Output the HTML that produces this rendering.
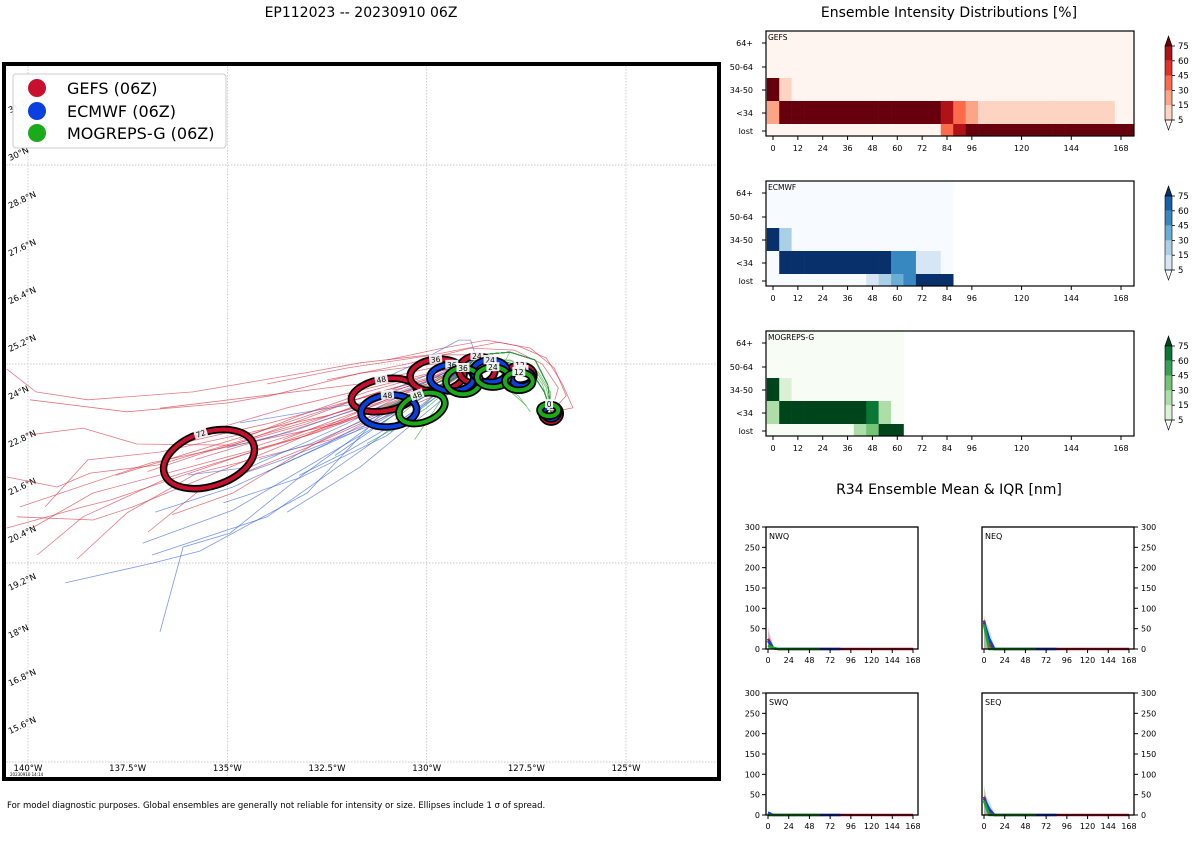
<!DOCTYPE html>
<html><head><meta charset="utf-8">
<style>
html,body{margin:0;padding:0;background:#fff;}
body{width:1200px;height:840px;overflow:hidden;font-family:"Liberation Sans","DejaVu Sans",sans-serif;}
svg text{font-family:"DejaVu Sans","Liberation Sans",sans-serif;}
</style></head>
<body>
<svg id="root" width="1200" height="840" viewBox="0 0 1200 840" xmlns="http://www.w3.org/2000/svg">
<defs><clipPath id="mapclip"><rect x="6" y="66" width="711" height="711"/></clipPath></defs>
<text x="361" y="17" font-size="14" text-anchor="middle">EP112023 -- 20230910 06Z</text>
<text x="949" y="17" font-size="14" text-anchor="middle">Ensemble Intensity Distributions [%]</text>
<text x="949" y="494" font-size="14" text-anchor="middle">R34 Ensemble Mean &amp; IQR [nm]</text>
<text x="7" y="808" font-size="8.5">For model diagnostic purposes. Global ensembles are generally not reliable for intensity or size. Ellipses include 1 σ of spread.</text>
<g id="map"></g>
<g id="heat"></g>
<g id="r34"></g>
</svg>
<script>
// ---------------- MAP DATA ----------------
const latTicks = [31.2,30,28.8,27.6,26.4,25.2,24,22.8,21.6,20.4,19.2,18,16.8,15.6];
const latTickLabels = ["31.2°N","30°N","28.8°N","27.6°N","26.4°N","25.2°N","24°N","22.8°N","21.6°N","20.4°N","19.2°N","18°N","16.8°N","15.6°N"];
const lonTicks = [-140,-137.5,-135,-132.5,-130,-127.5,-125];
const lonTickLabels = ["140°W","137.5°W","135°W","132.5°W","130°W","127.5°W","125°W"];
const gridLats = [30,25,20,15];
const gridLons = [-140,-135,-130,-125];
const hookPath = [[-126.88,23.79],[-126.96,24.47],[-127.28,25.1],[-127.91,25.3],[-128.66,25.23]];
const hookPath2 = [[-126.88,23.79],[-127.05,24.3],[-127.4,24.85],[-128.0,25.05],[-128.7,25.0]];
const gefsTails = [
 [[-129.9,25.23],[-131.67,25.03],[-132.93,24.8],[-135.86,24.3],[-138.5,24.1],[-139.8,24.3],[-140.53,24.87]],
 [[-129.8,25.0],[-131.67,24.77],[-133.93,24.2],[-135.0,24.02],[-137.52,23.8],[-139.95,24.1]],
 [[-129.8,24.7],[-131.5,24.2],[-134.86,22.96],[-137.27,22.99],[-138.62,23.39],[-139.95,23.22]],
 [[-129.7,24.6],[-131.8,23.9],[-136.76,22.46],[-138.44,22.26],[-139.27,21.91],[-140.53,22.16]],
 [[-129.6,24.5],[-132.0,23.6],[-137.94,21.58],[-138.62,21.41],[-140.53,20.88]],
 [[-129.7,24.4],[-132.2,23.5],[-136.94,22.51],[-140.2,21.41]],
 [[-129.9,24.5],[-132.5,23.7],[-136.69,22.79],[-138.5,22.59],[-139.57,21.41]],
 [[-130.0,24.3],[-132.7,23.3],[-136.44,22.16],[-138.62,21.16],[-139.77,20.2]],
 [[-129.8,24.2],[-132.4,23.1],[-135.76,22.26],[-137.52,21.26],[-138.77,20.1]],
 [[-130.0,24.4],[-133.0,23.2],[-138.37,21.76],[-139.9,20.88]],
 [[-129.9,24.6],[-133.5,23.0],[-137.37,21.41],[-138.37,21.08],[-140.28,21.16]],
 [[-130.1,24.2],[-133.0,22.9],[-135.69,21.83],[-136.99,20.78]],
 [[-130.2,24.3],[-132.8,23.0],[-134.86,21.76],[-136.39,21.21]],
 [[-129.9,24.9],[-131.67,24.5],[-136.69,23.89]],
 [[-129.5,24.8],[-133.0,23.5],[-135.5,22.8],[-137.0,22.3]],
 [[-129.6,24.7],[-131.2,24.3],[-134.2,23.3],[-137.8,22.2]],
 [[-129.4,24.9],[-131.0,24.5],[-133.5,23.9],[-135.2,23.4]],
 [[-129.5,24.6],[-131.3,24.0],[-133.8,23.2],[-135.8,22.6]],
 [[-129.7,24.8],[-131.5,24.3],[-133.2,23.7],[-134.7,23.1]],
 [[-129.6,24.4],[-131.0,23.9],[-132.8,23.4],[-134.4,22.9]],
 [[-129.8,24.6],[-131.8,24.1],[-134.0,23.5],[-136.2,23.0]],
 [[-129.5,24.5],[-130.9,24.1],[-132.3,23.6],[-133.6,23.1]]
];
const gefsFull = [
 [[-126.88,23.79],[-126.33,23.9],[-126.6,24.5],[-127.0,25.15],[-127.7,25.45],[-128.2,25.55],[-128.7,25.45],[-130.0,25.2],[-132.0,24.9],[-134.0,24.5]],
 [[-126.88,23.79],[-126.5,24.2],[-126.8,24.9],[-127.4,25.4],[-128.5,25.6],[-129.6,25.4],[-131.0,25.1]],
 [[-126.88,23.79],[-126.7,24.4],[-127.1,25.0],[-127.8,25.35],[-128.9,25.4],[-130.5,25.0],[-132.5,24.6]]
];
const ecTails = [
 [[-129.6,24.6],[-131.0,23.9],[-133.0,21.76],[-135.69,20.3],[-136.86,20.0],[-139.07,19.5]],
 [[-129.6,24.5],[-131.2,23.6],[-133.18,22.16],[-134.93,20.75],[-136.11,20.4],[-136.69,18.27]],
 [[-129.7,24.4],[-131.5,23.3],[-134.86,21.33],[-137.12,20.5]],
 [[-129.7,24.3],[-131.4,23.0],[-134.0,21.16],[-136.89,20.2]],
 [[-129.8,24.5],[-131.8,23.3],[-134.86,21.91],[-136.81,21.28]],
 [[-129.9,24.6],[-132.0,23.5],[-134.43,22.41],[-135.99,22.21]],
 [[-129.6,24.3],[-131.0,23.2],[-133.18,22.14],[-135.1,21.51]],
 [[-129.5,24.2],[-131.67,22.41],[-133.5,21.28]],
 [[-129.8,24.8],[-131.67,24.02],[-134.68,23.52]],
 [[-129.4,24.6],[-130.5,24.1],[-132.5,23.0],[-134.0,22.3]],
 [[-128.9,25.6],[-129.2,25.6],[-130.3,25.0],[-132.0,24.2]],
 [[-129.7,24.4],[-131.0,23.6],[-132.3,22.7]],
 [[-129.5,24.5],[-131.3,23.5],[-133.6,22.6],[-135.3,22.0]],
 [[-129.6,24.6],[-131.1,23.8],[-132.9,23.0],[-134.2,22.6]],
 [[-129.4,24.4],[-130.8,23.5],[-132.0,22.8],[-133.2,22.2]],
 [[-129.7,24.7],[-131.4,24.0],[-133.4,23.3],[-135.0,22.9]]
];
const mogTails = [
 [[-129.5,24.5],[-130.5,24.0],[-131.3,23.34]],
 [[-129.4,24.6],[-130.2,24.1],[-130.8,23.6]],
 [[-129.3,24.4],[-129.67,24.1]],
 [[-129.5,24.3],[-130.3,23.1]],
 [[-129.6,24.4],[-130.6,23.5],[-131.5,23.0]],
 [[-129.2,24.7],[-130.0,24.3],[-131.0,23.9]],
 [[-129.3,24.5],[-130.0,23.9],[-130.9,23.3]],
 [[-129.4,24.7],[-130.4,24.2],[-131.6,23.7]]
];
const mogFull = [
 [[-126.88,23.79],[-126.96,24.47],[-127.28,25.1],[-127.91,25.3],[-128.3,24.6],[-127.7,24.2],[-127.4,23.8]],
 [[-126.88,23.79],[-127.0,24.4],[-127.3,24.9],[-128.2,25.0],[-128.0,24.4],[-127.5,23.95]],
 [[-126.88,23.79],[-127.1,24.5],[-127.5,25.0],[-128.3,25.15],[-129.0,24.9],[-129.8,24.5],[-130.5,24.1]],
 [[-126.88,23.79],[-126.9,24.3],[-127.2,24.8],[-127.9,25.1],[-128.6,25.1],[-129.4,24.8],[-130.2,24.4]]
];
// ellipse data per model: time, lon, lat, rx(deg), ry(deg), angle
const gefsEllT = [72,48,36,24,12,0];
const gefsEllLon = [-135.46,-131.07,-129.74,-128.74,-127.66,-126.88];
const gefsEllLat = [22.61,24.22,24.72,24.85,24.72,23.76];
const gefsEllRx = [1.18,0.83,0.68,0.45,0.35,0.23];
const gefsEllRy = [0.68,0.40,0.40,0.35,0.25,0.22];
const gefsEllAng = [-18,-10,-5,0,0,0];
const ecEllT = [48,36,24,12,0];
const ecEllLon = [-130.95,-129.37,-128.41,-127.61,-126.88];
const ecEllLat = [23.82,24.65,24.82,24.65,23.78];
const ecEllRx = [0.70,0.55,0.43,0.27,0.18];
const ecEllRy = [0.40,0.33,0.28,0.2,0.16];
const ecEllAng = [-5,0,0,0,0];
const mogEllT = [48,36,24,12,0];
const mogEllLon = [-130.12,-129.09,-128.34,-127.69,-126.93];
const mogEllLat = [23.89,24.57,24.67,24.57,23.84];
const mogEllRx = [0.60,0.43,0.40,0.35,0.23];
const mogEllRy = [0.35,0.33,0.25,0.23,0.15];
const mogEllAng = [-20,0,0,0,0];

// ---------------- HEATMAP DATA ----------------
const intRows = ["64+","50-64","34-50","<34","lost"];
const heatXTicks = [0,12,24,36,48,60,72,84,96,120,144,168];
const cbTicks = [75,60,45,30,15,5];
const gefsR64 = [0,0,0,0,0,0,0,0,0,0,0,0,0,0,0,0,0,0,0,0,0,0,0,0,0,0,0,0,0];
const gefsR50 = [0,0,0,0,0,0,0,0,0,0,0,0,0,0,0,0,0,0,0,0,0,0,0,0,0,0,0,0,0];
const gefsR34 = [90,10,0,0,0,0,0,0,0,0,0,0,0,0,0,0,0,0,0,0,0,0,0,0,0,0,0,0,0];
const gefsRlt = [20,100,100,100,100,100,100,100,100,100,100,100,100,100,65,40,25,10,10,10,10,10,10,10,10,10,10,10,0];
const gefsRlost = [0,0,0,0,0,0,0,0,0,0,0,0,0,0,40,65,100,100,100,100,100,100,100,100,100,100,100,100,100];
const ecR64 = [0,0,0,0,0,0,0,0,0,0,0,0,0,0,0];
const ecR50 = [0,0,0,0,0,0,0,0,0,0,0,0,0,0,0];
const ecR34 = [90,20,0,0,0,0,0,0,0,0,0,0,0,0,0];
const ecRlt = [0,90,90,90,90,90,90,90,90,90,50,50,10,10,0];
const ecRlost = [0,0,0,0,0,0,0,0,10,20,35,50,90,90,90];
const mogR64 = [0,0,0,0,0,0,0,0,0,0,0];
const mogR50 = [0,0,0,0,0,0,0,0,0,0,0];
const mogR34 = [90,10,0,0,0,0,0,0,0,0,0];
const mogRlt = [20,90,90,90,90,90,90,90,65,20,0];
const mogRlost = [0,0,0,0,0,0,0,20,35,90,90];

// ---------------- R34 DATA ----------------
const r34XTicks = [0,24,48,72,96,120,144,168];
const r34YTicks = [0,50,100,150,200,250,300];
const gefsNWQ = [25,2,0,0,0,0,0,0,0,0,0,0,0,0,0,0,0,0,0,0,0,0,0,0,0,0,0,0,0];
const gefsNWQhi = [55,8,0,0,0,0,0,0,0,0,0,0,0,0,0,0,0,0,0,0,0,0,0,0,0,0,0,0,0];
const ecNWQ = [20,2,0,0,0,0,0,0,0,0,0,0,0,0,0];
const ecNWQhi = [45,8,0,0,0,0,0,0,0,0,0,0,0,0,0];
const mogNWQ = [8,3,0,0,0,0,0,0,0,0,0];
const mogNWQhi = [12,5,0,0,0,0,0,0,0,0,0];
const gefsNEQ = [70,10,0,0,0,0,0,0,0,0,0,0,0,0,0,0,0,0,0,0,0,0,0,0,0,0,0,0,0];
const gefsNEQhi = [85,20,0,0,0,0,0,0,0,0,0,0,0,0,0,0,0,0,0,0,0,0,0,0,0,0,0,0,0];
const ecNEQ = [65,25,0,0,0,0,0,0,0,0,0,0,0,0,0];
const ecNEQhi = [75,50,5,0,0,0,0,0,0,0,0,0,0,0,0];
const mogNEQ = [60,0,0,0,0,0,0,0,0,0,0];
const mogNEQhi = [70,5,0,0,0,0,0,0,0,0,0];
const gefsSWQ = [0,0,0,0,0,0,0,0,0,0,0,0,0,0,0,0,0,0,0,0,0,0,0,0,0,0,0,0,0];
const gefsSWQhi = [0,0,0,0,0,0,0,0,0,0,0,0,0,0,0,0,0,0,0,0,0,0,0,0,0,0,0,0,0];
const ecSWQ = [6,0,0,0,0,0,0,0,0,0,0,0,0,0,0];
const ecSWQhi = [10,3,0,0,0,0,0,0,0,0,0,0,0,0,0];
const mogSWQ = [0,0,0,0,0,0,0,0,0,0,0];
const mogSWQhi = [0,0,0,0,0,0,0,0,0,0,0];
const gefsSEQ = [45,5,0,0,0,0,0,0,0,0,0,0,0,0,0,0,0,0,0,0,0,0,0,0,0,0,0,0,0];
const gefsSEQhi = [65,15,0,0,0,0,0,0,0,0,0,0,0,0,0,0,0,0,0,0,0,0,0,0,0,0,0,0,0];
const ecSEQ = [40,15,0,0,0,0,0,0,0,0,0,0,0,0,0];
const ecSEQhi = [50,35,5,0,0,0,0,0,0,0,0,0,0,0,0];
const mogSEQ = [35,0,0,0,0,0,0,0,0,0,0];
const mogSEQhi = [75,5,0,0,0,0,0,0,0,0,0];

// ---------------- helpers ----------------
const NS = "http://www.w3.org/2000/svg";
function mk(tag, attrs, parent){ const e=document.createElementNS(NS,tag); for(const k in attrs) e.setAttribute(k,attrs[k]); if(parent) parent.appendChild(e); return e; }
const COL = {gefs:"#c8102e", ec:"#0a3fe0", mog:"#1aaa1a"};
const TRK = {gefs:"#d7303f", ec:"#3461e0", mog:"#28a428"};

// ---------------- MAP ----------------
const mapG = document.getElementById('map');
function X(lon){ return 28 + (lon+140)*39.87; }
function Y(lat){ return 165 + (30-lat)*39.8; }
const inner = mk('g',{'clip-path':'url(#mapclip)'},mapG);
gridLats.forEach(la=>{ const l=mk('line',{x1:6,x2:717,y1:Y(la),y2:Y(la),stroke:'#bbb','stroke-width':0.7,'stroke-dasharray':'1.5,1.5'},inner);
   });
gridLons.forEach(lo=>{ const l=mk('line',{x1:X(lo),x2:X(lo),y1:66,y2:777,stroke:'#bbb','stroke-width':0.7,'stroke-dasharray':'1.5,1.5'},inner);
   });
latTicks.forEach((la,i)=>{ const t=mk('text',{x:10,y:Y(la)-4,'font-size':8.5,transform:`rotate(-25 10 ${Y(la)-4})`},inner); t.textContent=latTickLabels[i];
   });
lonTicks.forEach((lo,i)=>{ const t=mk('text',{x:X(lo),y:771,'font-size':8.5,'text-anchor':'middle'},inner); t.textContent=lonTickLabels[i];
   });
const stamp = mk('text',{x:10,y:776,'font-size':4},inner); stamp.textContent='20230910 14:14';
 

function drawTrack(pts, model, name){
  const p = mk('polyline',{points:pts.map(q=>X(q[0]).toFixed(1)+','+Y(q[1]).toFixed(1)).join(' '),fill:'none',stroke:TRK[model],'stroke-width':0.8,'stroke-opacity':0.65},inner);
  
  
}
gefsTails.forEach((t,i)=>drawTrack((i%2?hookPath2:hookPath).concat(t),'gefs','gefs-member-track'));
gefsFull.forEach(t=>drawTrack(t,'gefs','gefs-member-track'));
ecTails.forEach((t,i)=>drawTrack((i%2?hookPath:hookPath2).concat(t),'ec','ecmwf-member-track'));
mogTails.forEach((t,i)=>drawTrack((i%2?hookPath2:hookPath).concat(t),'mog','mogreps-member-track'));
mogFull.forEach(t=>drawTrack(t,'mog','mogreps-member-track'));

function drawEll(T,LON,LAT,RX,RY,ANG,model,name){
  for(let i=0;i<T.length;i++){
    const cx=X(LON[i]), cy=Y(LAT[i]), rx=RX[i]*39.8, ry=RY[i]*39.8;
    const g = mk('g',{transform:`rotate(${ANG[i]} ${cx} ${cy})`},inner);
    
    
    mk('ellipse',{cx:cx,cy:cy,rx:rx,ry:ry,fill:'none',stroke:'#000','stroke-width':7.5},g);
    mk('ellipse',{cx:cx,cy:cy,rx:rx,ry:ry,fill:'none',stroke:COL[model],'stroke-width':4},g);
    const ly = cy - ry;
    const lab = String(T[i]);
    const w = lab.length*5+3;
    mk('rect',{x:cx-w/2,y:ly-5,width:w,height:9,fill:'#fff','fill-opacity':0.9},g);
    const t = mk('text',{x:cx,y:ly+3,'font-size':7.5,'text-anchor':'middle'},g); t.textContent=lab;
  }
}
drawEll(gefsEllT,gefsEllLon,gefsEllLat,gefsEllRx,gefsEllRy,gefsEllAng,'gefs','gefs-spread-ellipse');
drawEll(ecEllT,ecEllLon,ecEllLat,ecEllRx,ecEllRy,ecEllAng,'ec','ecmwf-spread-ellipse');
drawEll(mogEllT,mogEllLon,mogEllLat,mogEllRx,mogEllRy,mogEllAng,'mog','mogreps-spread-ellipse');

// legend
const leg = mk('g',{},mapG);
 
mk('rect',{x:13,y:74,width:213,height:74,rx:3,fill:'#fff','fill-opacity':0.95,stroke:'#ccc','stroke-width':1},leg);
[['GEFS (06Z)','gefs',88],['ECMWF (06Z)','ec',111],['MOGREPS-G (06Z)','mog',133]].forEach(e=>{
  const g=mk('g',{},leg);
   
  mk('circle',{cx:37,cy:e[2],r:9,fill:COL[e[1]]},g);
  const t=mk('text',{x:67,y:e[2]+6,'font-size':16},g); t.textContent=e[0];
});
const frame = mk('rect',{x:4,y:64,width:715,height:715,fill:'none',stroke:'#000','stroke-width':4},mapG);
 

// ---------------- HEATMAPS ----------------
const heatG = document.getElementById('heat');
const redsC = ['#fff5f0','#fdd3c1','#fca486','#fb6b4b','#e32f27','#b11218','#67000d'];
const bluesC = ['#f7fbff','#d6e6f4','#abd0e6','#6aaed6','#3787c0','#1561a9','#08306b'];
const greensC = ['#f7fcf5','#dbf1d5','#aedea7','#74c476','#37a055','#0b7734','#00441b'];
function bin(v){ return v<5?0: v<15?1: v<30?2: v<45?3: v<60?4: v<75?5: 6; }
function HX(t){ return 773 + t*2.0714; }
const rowTop = [0,23.5,47,70,93];
const rowBot = [23.5,47,70,93,105];
const rowTick = [12,36,59,82,100];
function drawHeat(y0,label,rows,cmap,name){
  const g = mk('g',{},heatG);
  
  
  rows.forEach((row,r)=>{
    row.forEach((v,c)=>{
      const t=c*6;
      const x1=Math.max(HX(t-3),766);
      const x2= (t>=168) ? 1134 : Math.min(HX(t+3),1134);
      const cell = mk('rect',{x:x1,y:y0+rowTop[r],width:x2-x1+0.3,height:rowBot[r]-rowTop[r]+0.3,fill:cmap[bin(v)]},g);
      
      
    });
  });
  mk('rect',{x:766,y:y0,width:368,height:105,fill:'none',stroke:'#000','stroke-width':1.2},g);
  const tl = mk('text',{x:768,y:y0+9,'font-size':7.5},g); tl.textContent=label;
  intRows.forEach((rn,i)=>{
    mk('line',{x1:762,x2:766,y1:y0+rowTick[i],y2:y0+rowTick[i],stroke:'#000','stroke-width':1},g);
    const t=mk('text',{x:753,y:y0+rowTick[i]+3,'font-size':8,'text-anchor':'end'},g); t.textContent=rn;
  });
  heatXTicks.forEach(tk=>{
    mk('line',{x1:HX(tk),x2:HX(tk),y1:y0+105,y2:y0+109,stroke:'#000','stroke-width':1},g);
    const t=mk('text',{x:HX(tk),y:y0+120,'font-size':8,'text-anchor':'middle'},g); t.textContent=tk;
  });
  const cb = mk('g',{},g);
   
  const top=y0+15, bot=y0+89, cx0=1165, cw=7, bh=(bot-top)/5;
  mk('polygon',{points:`${cx0},${top} ${cx0+cw/2},${top-10} ${cx0+cw},${top}`,fill:cmap[6],stroke:'#000','stroke-width':0.6},cb);
  for(let k=0;k<5;k++){ mk('rect',{x:cx0,y:bot-(k+1)*bh,width:cw,height:bh,fill:cmap[k+1]},cb); }
  mk('polygon',{points:`${cx0},${bot} ${cx0+cw/2},${bot+10} ${cx0+cw},${bot}`,fill:cmap[0],stroke:'#000','stroke-width':0.6},cb);
  mk('rect',{x:cx0,y:top,width:cw,height:bot-top,fill:'none',stroke:'#000','stroke-width':0.6},cb);
  cbTicks.forEach((v,k)=>{ const yy=top+k*bh;
    mk('line',{x1:cx0+cw,x2:cx0+cw+3,y1:yy,y2:yy,stroke:'#000','stroke-width':0.8},cb);
    const t=mk('text',{x:cx0+cw+6,y:yy+3,'font-size':8.5},cb); t.textContent=v; });
}
drawHeat(31,'GEFS',[gefsR64,gefsR50,gefsR34,gefsRlt,gefsRlost],redsC,'gefs-intensity-heatmap');
drawHeat(181,'ECMWF',[ecR64,ecR50,ecR34,ecRlt,ecRlost],bluesC,'ecmwf-intensity-heatmap');
drawHeat(331,'MOGREPS-G',[mogR64,mogR50,mogR34,mogRlt,mogRlost],greensC,'mogreps-intensity-heatmap');

// ---------------- R34 ----------------
const r34G = document.getElementById('r34');
function drawR34(x0,y0,label,rightAxis,series,name){
  const g = mk('g',{},r34G);
  
  
  const W=152,H=122;
  const PX=t=>x0+2+t*0.863, PY=v=>y0+H-v*(H/300);
  mk('rect',{x:x0,y:y0,width:W,height:H,fill:'#fff'},g);
  series.forEach(s=>{
    const [mean,hi,model]=s;
    const up = hi.map((v,i)=>PX(i*6).toFixed(1)+','+PY(v).toFixed(1));
    const dn = mean.map((v,i)=>PX(i*6).toFixed(1)+','+PY(0).toFixed(1)).reverse();
    mk('polygon',{points:up.concat(dn).join(' '),fill:TRK[model],'fill-opacity':0.22},g);
  });
  series.forEach(s=>{
    const [mean,hi,model]=s;
    const ln = mk('polyline',{points:mean.map((v,i)=>PX(i*6).toFixed(1)+','+PY(v).toFixed(1)).join(' '),fill:'none',stroke:COL[model],'stroke-width':2.5},g);
    
    
  });
  mk('rect',{x:x0,y:y0,width:W,height:H,fill:'none',stroke:'#000','stroke-width':1.3},g);
  const tl=mk('text',{x:x0+3,y:y0+12,'font-size':8},g); tl.textContent=label;
  r34XTicks.forEach(tk=>{ mk('line',{x1:PX(tk),x2:PX(tk),y1:y0+H,y2:y0+H+4,stroke:'#000'},g);
    const t=mk('text',{x:PX(tk),y:y0+H+14,'font-size':8,'text-anchor':'middle'},g); t.textContent=tk; });
  r34YTicks.forEach(tk=>{ const xx = rightAxis? x0+W : x0;
    mk('line',{x1:xx,x2:rightAxis?xx+4:xx-4,y1:PY(tk),y2:PY(tk),stroke:'#000'},g);
    const t=mk('text',{x:rightAxis?xx+7:xx-6,y:PY(tk)+3,'font-size':8,'text-anchor':rightAxis?'start':'end'},g); t.textContent=tk; });
}
drawR34(766,527,'NWQ',false,[[gefsNWQ,gefsNWQhi,'gefs'],[ecNWQ,ecNWQhi,'ec'],[mogNWQ,mogNWQhi,'mog']],'r34-nwq-panel');
drawR34(982,527,'NEQ',true,[[gefsNEQ,gefsNEQhi,'gefs'],[ecNEQ,ecNEQhi,'ec'],[mogNEQ,mogNEQhi,'mog']],'r34-neq-panel');
drawR34(766,693,'SWQ',false,[[gefsSWQ,gefsSWQhi,'gefs'],[ecSWQ,ecSWQhi,'ec'],[mogSWQ,mogSWQhi,'mog']],'r34-swq-panel');
drawR34(982,693,'SEQ',true,[[gefsSEQ,gefsSEQhi,'gefs'],[ecSEQ,ecSEQhi,'ec'],[mogSEQ,mogSEQhi,'mog']],'r34-seq-panel');
</script>
</body></html>
